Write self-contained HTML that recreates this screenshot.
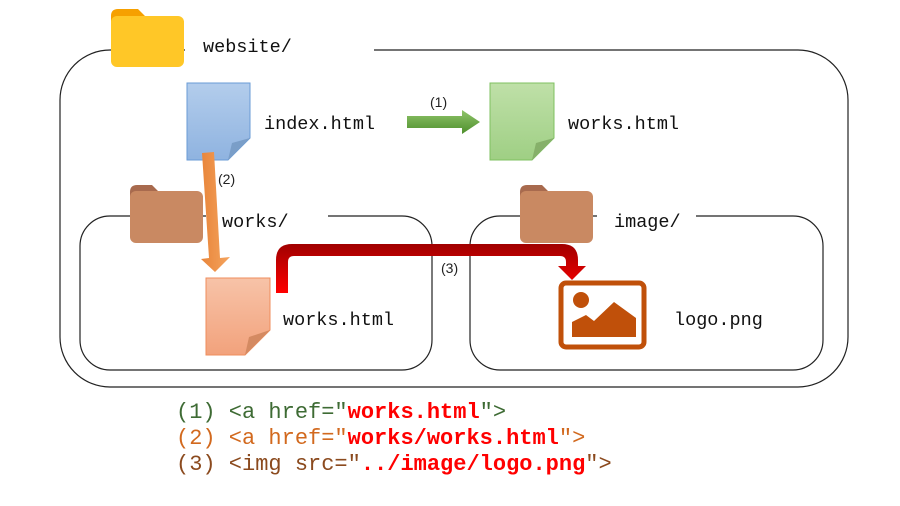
<!DOCTYPE html>
<html><head><style>
body{margin:0;background:#fff;width:900px;height:506px;overflow:hidden}
svg{display:block}
.m{font-family:"Liberation Mono",monospace;font-size:18.5px;fill:#111}
.s{font-family:"Liberation Sans",sans-serif;font-size:14px;fill:#222}
.c{font-family:"Liberation Mono",monospace;font-size:22px}
</style></head><body>
<svg width="900" height="506" viewBox="0 0 900 506">
<defs>
<linearGradient id="gb" x1="0" y1="0" x2="0" y2="1"><stop offset="0" stop-color="#b3cdec"/><stop offset="1" stop-color="#8fb3e0"/></linearGradient>
<linearGradient id="gg" x1="0" y1="0" x2="0" y2="1"><stop offset="0" stop-color="#bfe0a8"/><stop offset="1" stop-color="#9fcf84"/></linearGradient>
<linearGradient id="go" x1="0" y1="0" x2="0" y2="1"><stop offset="0" stop-color="#f7c3a8"/><stop offset="1" stop-color="#f2a27c"/></linearGradient>
<linearGradient id="ga" x1="0" y1="0" x2="1" y2="0"><stop offset="0" stop-color="#e8853a"/><stop offset="1" stop-color="#f5a45e"/></linearGradient>
<linearGradient id="gr" x1="0" y1="1" x2="0" y2="0"><stop offset="0" stop-color="#ff0000"/><stop offset="1" stop-color="#a00000"/></linearGradient>
<linearGradient id="gn" x1="0" y1="0" x2="0" y2="1"><stop offset="0" stop-color="#8fc46a"/><stop offset="1" stop-color="#4e8f2c"/></linearGradient>
</defs>
<path d="M185,50 L110,50 A50,50 0 0 0 60,100 L60,337 A50,50 0 0 0 110,387 L798,387 A50,50 0 0 0 848,337 L848,100 A50,50 0 0 0 798,50 L374,50" fill="none" stroke="#222" stroke-width="1.2"/>
<path d="M206,216 L110,216 A30,30 0 0 0 80,246 L80,340 A30,30 0 0 0 110,370 L402,370 A30,30 0 0 0 432,340 L432,246 A30,30 0 0 0 402,216 L328,216" fill="none" stroke="#222" stroke-width="1.2"/>
<path d="M597,216 L500,216 A30,30 0 0 0 470,246 L470,340 A30,30 0 0 0 500,370 L793,370 A30,30 0 0 0 823,340 L823,246 A30,30 0 0 0 793,216 L696,216" fill="none" stroke="#222" stroke-width="1.2"/>
<path d="M111,16 Q111,9 118,9 L138,9 L145,16 L178,16 L178,40 L111,40 Z" fill="#f6a000"/>
<rect x="111" y="16" width="73" height="51" rx="6" fill="#ffc727"/>
<text class="m" x="203" y="52">website/</text>
<path d="M187,83 L250,83 L250,138 L228,160 L187,160 Z" fill="url(#gb)" stroke="#6a9bd6"/>
<path d="M228,160 L232,143 L250,138 Z" fill="#7a9ec8"/>
<text class="m" x="264" y="129">index.html</text>
<path d="M490,83 L554,83 L554,138 L532,160 L490,160 Z" fill="url(#gg)" stroke="#7fc060"/>
<path d="M532,160 L536,143 L554,138 Z" fill="#86b06a"/>
<text class="m" x="568" y="129">works.html</text>
<path d="M407,116 L462,116 L462,110 L480,122 L462,134 L462,128 L407,128 Z" fill="url(#gn)"/>
<text class="s" x="430" y="107">(1)</text>
<path d="M130,192 Q130,185 137,185 L152,185 L158,191 L196,191 L196,205 L130,205 Z" fill="#a86a4e"/>
<rect x="130" y="191" width="73" height="52" rx="6" fill="#c98962"/>
<text class="m" x="222" y="227">works/</text>
<path d="M520,192 Q520,185 527,185 L542,185 L548,191 L586,191 L586,205 L520,205 Z" fill="#a86a4e"/>
<rect x="520" y="191" width="73" height="52" rx="6" fill="#c98962"/>
<text class="m" x="614" y="227">image/</text>
<path d="M202,153 L214,152 L220,258 L230,257 L215,272 L201,259 L209,258 Z" fill="url(#ga)"/>
<text class="s" x="218" y="184">(2)</text>
<path d="M206,278 L270,278 L270,330 L245,355 L206,355 Z" fill="url(#go)" stroke="#ef8d5c"/>
<path d="M245,355 L249,337 L270,330 Z" fill="#d48a62"/>
<text class="m" x="283" y="325">works.html</text>
<path d="M276,293 L276,260 Q276,244 292,244 L562,244 Q578,244 578,260 L578,266 L586,266 L572,280 L558,266 L566,266 L566,262 Q566,256 560,256 L294,256 Q288,256 288,262 L288,293 Z" fill="url(#gr)"/>
<text class="s" x="441" y="273">(3)</text>
<rect x="561" y="283" width="83" height="64" rx="5" fill="none" stroke="#c0500a" stroke-width="5"/>
<circle cx="581" cy="300" r="8" fill="#c0500a"/>
<path d="M572,337 L572,322 L586,315 L594,321 L614,302 L636,318 L636,337 Z" fill="#c0500a"/>
<text class="m" x="674" y="325">logo.png</text>
<text class="c" x="176" y="418"><tspan fill="#3e6b34">(1) &lt;a href="</tspan><tspan fill="#ff0000" font-weight="bold">works.html</tspan><tspan fill="#3e6b34">"&gt;</tspan></text>
<text class="c" x="176" y="444"><tspan fill="#d2691e">(2) &lt;a href="</tspan><tspan fill="#ff0000" font-weight="bold">works/works.html</tspan><tspan fill="#d2691e">"&gt;</tspan></text>
<text class="c" x="176" y="470"><tspan fill="#8b4a1e">(3) &lt;img src="</tspan><tspan fill="#ff0000" font-weight="bold">../image/logo.png</tspan><tspan fill="#8b4a1e">"&gt;</tspan></text>
</svg>
</body></html>
